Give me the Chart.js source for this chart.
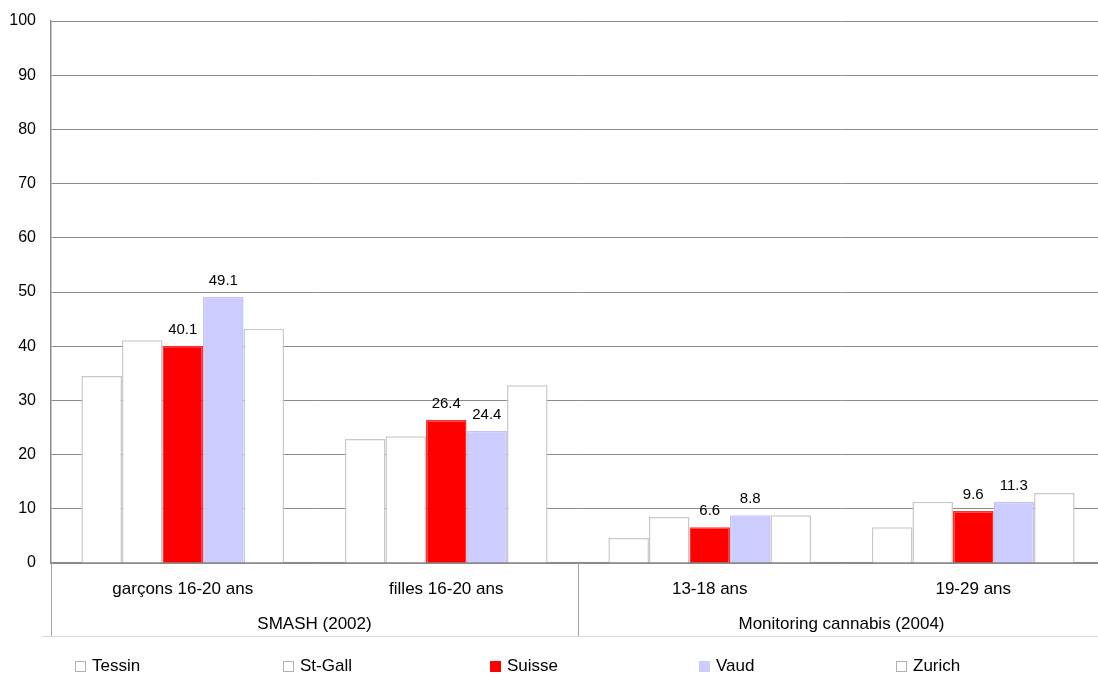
<!DOCTYPE html>
<html>
<head>
<meta charset="utf-8">
<script src="https://cdn.jsdelivr.net/npm/chart.js@4.4.1/dist/chart.umd.min.js"></script>
<style>
  html, body { margin: 0; padding: 0; background: #fff; overflow: hidden; }
  #wrap { width: 1098px; height: 675px; overflow: hidden; }
  canvas { display: block; }
</style>
</head>
<body>
<div id="wrap"><canvas id="c" width="1110" height="675"></canvas></div>
<script>
// Categories (inner level) and their survey groups (outer level)
const categories = ['garçons 16-20 ans', 'filles 16-20 ans', '13-18 ans', '19-29 ans'];
const groups = [
  { label: 'SMASH (2002)', from: 0, to: 1 },
  { label: 'Monitoring cannabis (2004)', from: 2, to: 3 }
];

// Series values (%)
const tessin  = [34.5, 22.9, 4.6, 6.6];
const stGall  = [41.1, 23.4, 8.5, 11.3];
const suisse  = [40.1, 26.4, 6.6, 9.6];
const vaud    = [49.1, 24.4, 8.8, 11.3];
const zurich  = [43.2, 32.8, 8.8, 12.9];

const yTicks = [0, 10, 20, 30, 40, 50, 60, 70, 80, 90, 100];

const FONT = 'Liberation Sans, Arial, sans-serif';
const legendX = [75, 283, 490, 699, 896];

const series = [
  { label: 'Tessin',  data: tessin, bg: '#ffffff', border: '#c9c9c9', showValues: false },
  { label: 'St-Gall', data: stGall, bg: '#ffffff', border: '#c9c9c9', showValues: false },
  { label: 'Suisse',  data: suisse, bg: '#ff0000', border: '#ff3030', showValues: true },
  { label: 'Vaud',    data: vaud,   bg: '#ccccff', border: '#c4c4f4', showValues: true },
  { label: 'Zurich',  data: zurich, bg: '#ffffff', border: '#c9c9c9', showValues: false }
];

// Value labels above the Suisse and Vaud bars
const valueLabels = {
  id: 'valueLabels',
  afterDatasetsDraw(chart) {
    const ctx = chart.ctx;
    ctx.save();
    ctx.font = '15px ' + FONT;
    ctx.fillStyle = '#000';
    ctx.textAlign = 'center';
    ctx.textBaseline = 'alphabetic';
    chart.data.datasets.forEach((ds, i) => {
      if (!series[i].showValues) return;
      chart.getDatasetMeta(i).data.forEach((bar, j) => {
        ctx.fillText(ds.data[j].toFixed(1), bar.x, bar.y - 12);
      });
    });
    ctx.restore();
  }
};

// Outer category level, separators and legend
const categoryFrame = {
  id: 'categoryFrame',
  afterDraw(chart) {
    const ctx = chart.ctx;
    const x = chart.scales.x;
    const area = chart.chartArea;
    const half = (x.getPixelForValue(1) - x.getPixelForValue(0)) / 2;
    const bottomLine = 636;
    ctx.save();
    // separators between outer groups
    ctx.strokeStyle = '#a6a6a6';
    ctx.lineWidth = 1;
    groups.forEach((g, gi) => {
      const left = x.getPixelForValue(g.from) - half;
      ctx.beginPath();
      ctx.moveTo(Math.round(left) + 0.5, area.bottom);
      ctx.lineTo(Math.round(left) + 0.5, bottomLine);
      ctx.stroke();
      if (gi === groups.length - 1) {
        const right = x.getPixelForValue(g.to) + half;
        ctx.beginPath();
        ctx.moveTo(Math.round(right) + 0.5, area.bottom);
        ctx.lineTo(Math.round(right) + 0.5, bottomLine);
        ctx.stroke();
      }
    });
    ctx.strokeStyle = '#d9d9d9';
    ctx.beginPath();
    ctx.moveTo(42, bottomLine + 0.5);
    ctx.lineTo(chart.width, bottomLine + 0.5);
    ctx.stroke();
    // outer labels
    ctx.font = '17px ' + FONT;
    ctx.fillStyle = '#000';
    ctx.textAlign = 'center';
    ctx.textBaseline = 'middle';
    groups.forEach(g => {
      const cx = (x.getPixelForValue(g.from) + x.getPixelForValue(g.to)) / 2;
      ctx.fillText(g.label, cx, 624);
    });
    // legend
    ctx.textAlign = 'left';
    series.forEach((s, i) => {
      const bx = legendX[i];
      ctx.fillStyle = s.bg;
      ctx.fillRect(bx, 661, 11, 11);
      if (s.bg === '#ffffff') {
        ctx.strokeStyle = '#b0b0b0';
        ctx.strokeRect(bx + 0.5, 661.5, 10, 10);
      }
      ctx.fillStyle = '#000';
      ctx.fillText(s.label, bx + 17, 666);
    });
    ctx.restore();
  }
};

new Chart(document.getElementById('c'), {
  type: 'bar',
  data: {
    labels: categories,
    datasets: series.map(s => ({
      label: s.label,
      data: s.data,
      backgroundColor: s.bg,
      borderColor: s.border,
      borderWidth: 1.5,
      borderSkipped: 'bottom',
      barPercentage: 1,
      categoryPercentage: 5 / 6.5
    }))
  },
  options: {
    responsive: false,
    animation: false,
    layout: { padding: { top: 21, right: 5, bottom: 0, left: 0 } },
    plugins: {
      legend: { display: false },
      tooltip: { enabled: false },
      title: { display: false }
    },
    scales: {
      x: {
        grid: { display: false, drawTicks: false },
        border: { display: true, color: '#8a8a8a', width: 1.5 },
        ticks: {
          color: '#000',
          font: { family: FONT, size: 17 },
          padding: 16,
          maxRotation: 0,
          autoSkip: false
        },
        afterFit(scale) { scale.height = 112; scale.paddingLeft = 0; scale.paddingRight = 0; }
      },
      y: {
        min: 0,
        max: 100,
        afterBuildTicks(scale) { scale.ticks = yTicks.map(v => ({ value: v })); },
        grid: { color: '#8c8c8c', lineWidth: 1, drawTicks: false },
        border: { display: true, color: '#8a8a8a', width: 1.5 },
        ticks: {
          color: '#000',
          font: { family: FONT, size: 16 },
          padding: 15
        },
        afterFit(scale) { scale.width = 51; scale.paddingTop = 0; scale.paddingBottom = 0; }
      }
    }
  },
  plugins: [valueLabels, categoryFrame]
});
</script>
</body>
</html>
